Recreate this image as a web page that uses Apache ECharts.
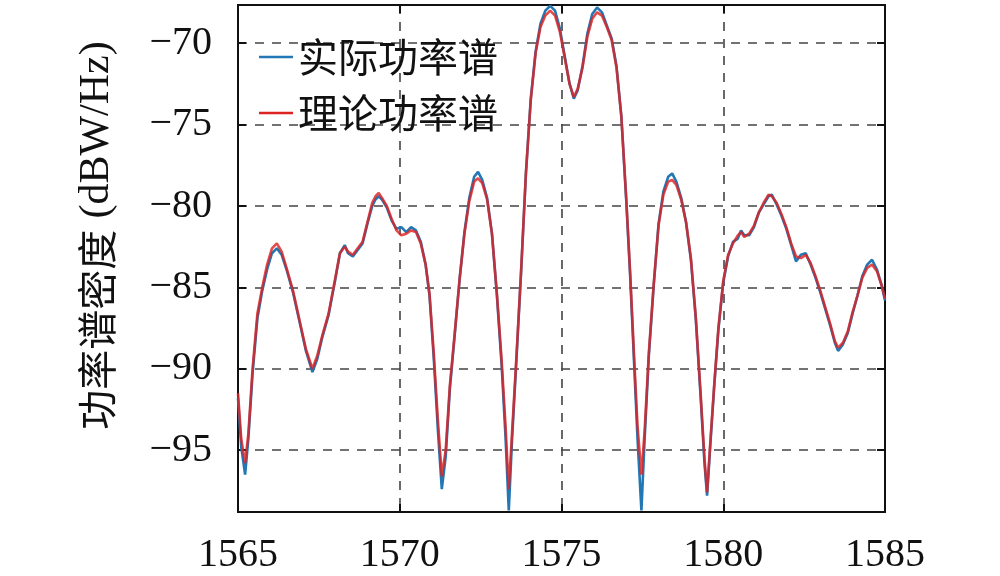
<!DOCTYPE html>
<html>
<head>
<meta charset="utf-8">
<script src="https://cdn.jsdelivr.net/npm/echarts@6/dist/echarts.min.js"></script>
<style>html,body{margin:0;padding:0;background:#fff}#c{width:1000px;height:576px}</style>
</head>
<body>
<div id="c"></div>
<script>
const seriesNames = ['实际功率谱', '理论功率谱'];
const xTicks = [1565, 1570, 1575, 1580, 1585];
const yTicks = [-95, -90, -85, -80, -75, -70];
const freq = [
1565.0,1565.1,1565.22,1565.32,1565.45,1565.6,1565.75,1565.9,1566.05,1566.2,
1566.35,1566.5,1566.7,1566.9,1567.1,1567.3,1567.45,1567.6,1567.8,1568.0,
1568.15,1568.3,1568.4,1568.55,1568.7,1568.85,1569.0,1569.15,1569.25,1569.35,
1569.45,1569.6,1569.75,1569.9,1570.05,1570.2,1570.35,1570.5,1570.65,1570.8,
1570.92,1571.05,1571.18,1571.3,1571.42,1571.55,1571.7,1571.85,1572.0,1572.15,
1572.3,1572.42,1572.55,1572.7,1572.85,1573.0,1573.15,1573.27,1573.37,1573.47,
1573.6,1573.75,1573.9,1574.05,1574.2,1574.35,1574.5,1574.65,1574.8,1574.95,
1575.1,1575.25,1575.38,1575.5,1575.65,1575.8,1575.95,1576.1,1576.25,1576.4,
1576.55,1576.7,1576.85,1577.0,1577.12,1577.25,1577.35,1577.47,1577.57,1577.7,
1577.85,1578.0,1578.15,1578.3,1578.42,1578.55,1578.7,1578.85,1579.0,1579.15,
1579.3,1579.42,1579.5,1579.6,1579.72,1579.85,1580.0,1580.15,1580.3,1580.45,
1580.55,1580.65,1580.8,1580.95,1581.1,1581.25,1581.4,1581.5,1581.65,1581.8,
1581.95,1582.1,1582.25,1582.4,1582.55,1582.7,1582.85,1583.0,1583.15,1583.3,
1583.45,1583.55,1583.7,1583.85,1584.0,1584.15,1584.3,1584.45,1584.6,1584.75,
1584.9,1585.0];
const actual = [
-91.8,-94.8,-96.5,-94.3,-90.3,-86.9,-85.2,-83.9,-82.9,-82.6,
-83.0,-83.9,-85.3,-87.1,-88.9,-90.2,-89.4,-88.1,-86.7,-84.6,
-82.9,-82.4,-82.9,-83.1,-82.7,-82.3,-81.1,-80.0,-79.6,-79.4,
-79.6,-80.1,-80.9,-81.4,-81.3,-81.6,-81.3,-81.5,-82.2,-83.6,
-85.5,-89.3,-93.8,-97.4,-95.4,-91.2,-87.9,-84.5,-81.6,-79.5,
-78.2,-77.9,-78.4,-79.5,-81.7,-85.4,-89.8,-94.2,-98.7,-94.4,
-89.7,-84.1,-78.0,-73.4,-70.5,-68.8,-68.0,-67.7,-68.0,-69.1,
-70.8,-72.5,-73.4,-72.9,-71.4,-69.4,-68.2,-67.8,-68.1,-68.9,
-69.7,-71.4,-74.5,-79.6,-84.2,-89.9,-94.3,-98.7,-94.3,-89.2,
-84.9,-81.1,-79.1,-78.2,-78.0,-78.5,-79.5,-81.0,-83.3,-86.9,
-91.7,-95.8,-97.8,-94.7,-91.1,-87.6,-84.7,-83.1,-82.2,-82.0,
-81.5,-81.8,-81.8,-81.3,-80.4,-79.9,-79.4,-79.3,-79.9,-80.6,
-81.4,-82.4,-83.4,-83.0,-82.9,-83.6,-84.4,-85.3,-86.3,-87.3,
-88.4,-88.9,-88.5,-87.8,-86.6,-85.5,-84.3,-83.6,-83.3,-83.9,
-84.9,-85.8];
const theory = [
-91.5,-94.3,-95.8,-94.0,-90.0,-86.6,-85.0,-83.6,-82.6,-82.3,
-82.8,-83.8,-85.2,-87.0,-88.8,-90.0,-89.2,-88.0,-86.6,-84.5,
-82.9,-82.5,-82.8,-83.0,-82.6,-82.2,-81.0,-79.8,-79.4,-79.2,
-79.5,-80.0,-80.8,-81.5,-81.8,-81.7,-81.5,-81.6,-82.3,-83.6,
-85.4,-89.0,-93.2,-96.6,-95.0,-91.0,-87.8,-84.5,-81.7,-79.7,
-78.5,-78.3,-78.6,-79.6,-81.7,-85.3,-89.5,-93.5,-97.4,-94.0,
-89.5,-84.0,-78.0,-73.5,-70.6,-69.0,-68.3,-68.0,-68.3,-69.3,
-70.9,-72.5,-73.3,-72.8,-71.5,-69.6,-68.5,-68.1,-68.3,-69.0,
-69.8,-71.5,-74.5,-79.5,-84.0,-89.5,-93.5,-96.5,-93.8,-89.0,
-84.8,-81.2,-79.3,-78.5,-78.4,-78.7,-79.6,-81.0,-83.2,-86.8,
-91.5,-95.5,-97.6,-94.5,-91.0,-87.5,-84.6,-83.0,-82.3,-81.8,
-81.6,-81.9,-81.7,-81.2,-80.4,-79.8,-79.3,-79.4,-79.8,-80.5,
-81.3,-82.3,-83.1,-83.2,-83.0,-83.5,-84.3,-85.2,-86.2,-87.2,
-88.3,-88.7,-88.4,-87.7,-86.5,-85.5,-84.4,-83.8,-83.6,-84.0,
-84.9,-85.7];

const chart = echarts.init(document.getElementById('c'), null, {renderer: 'canvas'});
const serif = '"Liberation Serif", "DejaVu Serif", serif';
const cjk = '"Noto Sans CJK SC", sans-serif';
const X_MIN = 1565, X_MAX = 1585, Y_MIN = -98.8, Y_MAX = -67.65;
const gridLine = {show: true, lineStyle: {color: '#444', width: 1.6, type: [9, 8]}};
const fmt = v => String(v).replace('-', '\u2212');
chart.setOption({
  animation: false,
  backgroundColor: '#fff',
  grid: {left: 238, right: 115, top: 5, bottom: 64, show: true, borderColor: '#111', borderWidth: 2, backgroundColor: 'transparent'},
  legend: {
    left: 254, top: 32, orient: 'vertical', itemGap: 16,
    icon: 'rect', itemWidth: 34, itemHeight: 2.5,
    textStyle: {fontFamily: cjk, fontSize: 40, color: '#111', padding: [0, 0, 0, 0]},
    data: seriesNames
  },
  xAxis: [{
    type: 'value', min: X_MIN, max: X_MAX, interval: 5,
    axisLine: {show: true, lineStyle: {color: '#111', width: 2}},
    axisTick: {show: true, inside: true, length: 8, lineStyle: {color: '#111', width: 2}},
    axisLabel: {fontFamily: serif, fontSize: 40, color: '#111', margin: 23, formatter: v => xTicks.includes(v) ? String(v) : ''},
    splitLine: gridLine
  }, {
    type: 'value', position: 'top', min: X_MIN, max: X_MAX, interval: 5,
    axisLine: {show: true, lineStyle: {color: '#111', width: 2}},
    axisTick: {show: true, inside: true, length: 8, lineStyle: {color: '#111', width: 2}},
    axisLabel: {show: false}, splitLine: {show: false}
  }],
  yAxis: [{
    type: 'value', min: Y_MIN, max: Y_MAX, splitNumber: 6,
    name: '{c|功率谱密度} {e|(dBW/Hz)}', nameLocation: 'middle', nameGap: 120,
    nameTextStyle: {fontSize: 40, color: '#111', padding: [0, 0, 0, 46],
      rich: {c: {fontFamily: cjk, fontSize: 40, color: '#111'}, e: {fontFamily: serif, fontSize: 42, color: '#111'}}},
    axisLine: {show: true, lineStyle: {color: '#111', width: 2}},
    axisTick: {show: true, inside: true, length: 8, lineStyle: {color: '#111', width: 2}},
    axisLabel: {fontFamily: serif, fontSize: 40, color: '#111', margin: 26, showMinLabel: false, showMaxLabel: false,
      formatter: v => yTicks.includes(v) ? fmt(v) : ''},
    splitLine: gridLine
  }, {
    type: 'value', position: 'right', min: Y_MIN, max: Y_MAX, splitNumber: 6,
    axisLine: {show: true, lineStyle: {color: '#111', width: 2}},
    axisTick: {show: true, inside: true, length: 8, lineStyle: {color: '#111', width: 2}},
    axisLabel: {show: false}, splitLine: {show: false}
  }],
  series: [{
    name: seriesNames[0], type: 'line', xAxisIndex: 0, yAxisIndex: 0,
    showSymbol: false, symbol: 'none', clip: true,
    lineStyle: {color: '#2277b4', width: 2.6}, itemStyle: {color: '#2277b4'},
    data: freq.map((f, i) => [f, actual[i]])
  }, {
    name: seriesNames[1], type: 'line', xAxisIndex: 0, yAxisIndex: 0,
    showSymbol: false, symbol: 'none', clip: true,
    lineStyle: {color: '#dd2222', width: 2.6, opacity: 0.82}, itemStyle: {color: '#dd2222'},
    data: freq.map((f, i) => [f, theory[i]])
  }]
});
</script>
</body>
</html>
